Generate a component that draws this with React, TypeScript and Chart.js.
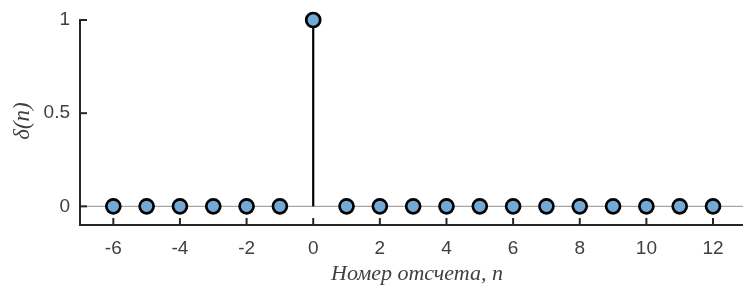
import React, { useEffect, useRef } from 'react';
import { Chart, registerables } from 'chart.js';

Chart.register(...registerables);

// ---- data ----
const samples: number[] = [-6, -5, -4, -3, -2, -1, 0, 1, 2, 3, 4, 5, 6, 7, 8, 9, 10, 11, 12];
const values: number[] = [0, 0, 0, 0, 0, 0, 1, 0, 0, 0, 0, 0, 0, 0, 0, 0, 0, 0, 0];
const xTicks: number[] = [-6, -4, -2, 0, 2, 4, 6, 8, 10, 12];
const yTicks: number[] = [0, 0.5, 1];
const xRange: number[] = [-7, 12.9];
const yRange: number[] = [-0.1, 1];
const xTitle = 'Номер отсчета, n';
const yTitleMain = 'δ';
const yTitleArg = 'n';

const AXIS = '#262626';
const TEXT = '#404040';
const MARKER = '#74a9d6';

const stemPlugin = {
  id: 'stems',
  beforeDatasetsDraw(chart: any) {
    const { ctx, chartArea, scales } = chart;
    const x = scales.x, y = scales.y;
    const y0 = y.getPixelForValue(0);
    ctx.save();
    ctx.strokeStyle = '#a6a6a6';
    ctx.lineWidth = 1.3;
    ctx.beginPath();
    ctx.moveTo(chartArea.left, y0);
    ctx.lineTo(chartArea.right, y0);
    ctx.stroke();
    ctx.strokeStyle = '#000';
    ctx.lineWidth = 2.2;
    samples.forEach((n, i) => {
      if (values[i] === 0) return;
      const px = x.getPixelForValue(n);
      ctx.beginPath();
      ctx.moveTo(px, y0);
      ctx.lineTo(px, y.getPixelForValue(values[i]));
      ctx.stroke();
    });
    ctx.restore();
  },
  afterDraw(chart: any) {
    const { ctx, chartArea, scales } = chart;
    const x = scales.x, y = scales.y;
    ctx.save();
    ctx.strokeStyle = AXIS;
    ctx.lineWidth = 2;
    ctx.lineCap = 'square';
    ctx.beginPath();
    ctx.moveTo(chartArea.left, chartArea.top);
    ctx.lineTo(chartArea.left, chartArea.bottom);
    ctx.lineTo(chartArea.right, chartArea.bottom);
    ctx.stroke();
    ctx.lineCap = 'butt';
    const tl = 7;
    yTicks.forEach((v) => {
      const py = y.getPixelForValue(v);
      ctx.beginPath();
      ctx.moveTo(chartArea.left, py);
      ctx.lineTo(chartArea.left + tl, py);
      ctx.stroke();
    });
    xTicks.forEach((v) => {
      const px = x.getPixelForValue(v);
      ctx.beginPath();
      ctx.moveTo(px, chartArea.bottom);
      ctx.lineTo(px, chartArea.bottom - tl);
      ctx.stroke();
    });
    ctx.fillStyle = TEXT;
    ctx.font = 'italic 22px "Liberation Serif", "DejaVu Serif", serif';
    ctx.textAlign = 'center';
    ctx.textBaseline = 'alphabetic';
    ctx.fillText(xTitle, 417, 280);
    ctx.font = 'italic 23px "Liberation Serif", "DejaVu Serif", serif';
    ctx.translate(29, 121);
    ctx.rotate(-Math.PI / 2);
    const full = yTitleMain + '(' + yTitleArg + ')';
    ctx.fillText(full, 0, 0);
    ctx.restore();
  },
};

export default function App() {
  const ref = useRef<HTMLCanvasElement | null>(null);
  useEffect(() => {
    if (!ref.current) return;
    const chart = new Chart(ref.current, {
      type: 'scatter',
      data: {
        datasets: [
          {
            data: samples.map((n, i) => ({ x: n, y: values[i] })),
            showLine: false,
            pointRadius: 7,
            pointHoverRadius: 7,
            pointBorderWidth: 2.7,
            pointBackgroundColor: MARKER,
            pointBorderColor: '#000',
            clip: false as any,
          },
        ],
      },
      options: {
        responsive: false,
        animation: false,
        devicePixelRatio: 1,
        layout: { autoPadding: false, padding: { top: 20, right: 0, left: 0, bottom: 0 } },
        plugins: { legend: { display: false }, tooltip: { enabled: false } },
        scales: {
          x: {
            type: 'linear',
            min: xRange[0],
            max: xRange[1],
            afterBuildTicks: (s: any) => {
              s.ticks = xTicks.map((v) => ({ value: v }));
            },
            afterFit: (s: any) => {
              s.height = 61;
              s.paddingLeft = 0;
              s.paddingRight = 0;
            },
            grid: { display: false, drawTicks: false },
            border: { display: false },
            ticks: {
              padding: 12,
              color: TEXT,
              font: { family: '"Liberation Sans", Arial, sans-serif', size: 19 },
              callback: (v: any) => String(v),
            },
          },
          y: {
            type: 'linear',
            min: yRange[0],
            max: yRange[1],
            afterBuildTicks: (s: any) => {
              s.ticks = yTicks.map((v) => ({ value: v }));
            },
            afterFit: (s: any) => {
              s.width = 80;
              s.paddingTop = 0;
              s.paddingBottom = 0;
            },
            grid: { display: false, drawTicks: false },
            border: { display: false },
            ticks: {
              padding: 10,
              color: TEXT,
              font: { family: '"Liberation Sans", Arial, sans-serif', size: 19 },
              callback: (v: any) => String(v),
            },
          },
        },
      },
      plugins: [stemPlugin],
    });
    return () => chart.destroy();
  }, []);
  return (
    <div style={{ position: 'fixed', left: 0, top: 0, width: 743, height: 286, background: '#fff' }}>
      <canvas ref={ref} width={743} height={286} style={{ display: 'block' }} />
    </div>
  );
}
